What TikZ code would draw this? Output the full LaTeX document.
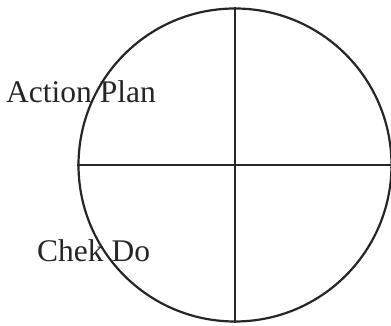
\documentclass[tikz,border=0pt]{standalone}
\usepackage{fontspec}
\setmainfont{Liberation Serif}
\begin{document}
\begin{tikzpicture}[x=1pt,y=1pt,
  ring/.style={draw=black!85, line width=2.2pt, circle, inner sep=0pt, minimum size=313pt},
  axis/.style={draw=black!85, line width=2.2pt},
  lbl/.style={anchor=base west, inner sep=0pt, font=\fontsize{31.5}{31.5}\selectfont, text=black!85}]
\useasboundingbox (0,0) rectangle (391,326);
\fill[white] (0,0) rectangle (391,326);
\node[ring] (c) at (235,161) {};
\draw[axis] (c.north) -- (c.south);
\draw[axis] (c.west) -- (c.east);
\node[lbl] (ap) at (6,223) {Action Plan};
\node[lbl] (cd) at (37,64) {Chek Do};
\end{tikzpicture}
\end{document}
